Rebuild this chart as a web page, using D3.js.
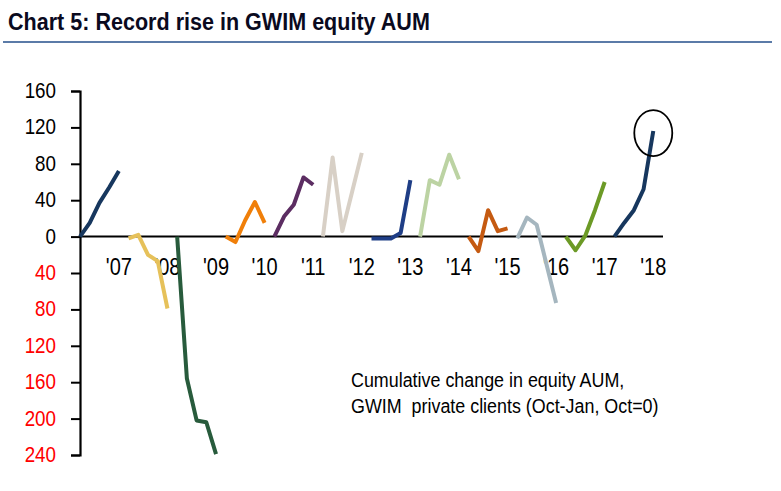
<!DOCTYPE html>
<html>
<head>
<meta charset="utf-8">
<script src="https://cdn.jsdelivr.net/npm/d3@7"></script>
<style>
  body { margin: 0; background: #fff; }
  svg text { font-family: "Liberation Sans", Arial, sans-serif; }
</style>
</head>
<body>
<svg id="chart" width="781" height="491"></svg>
<script>
// one segment per season, Oct..Jan, Oct = 0
const years = ["'07", "'08", "'09", "'10", "'11", "'12", "'13", "'14", "'15", "'16", "'17", "'18"];
const seasonValues = [
    [0, 15, 37, 54, 72],
    [-2, 2, -20, -27, -79],
    [0, -156, -202, -204, -239],
    [0, -6, 18, 38, 15],
    [0, 22, 35, 65, 57],
    [0, 87, 6, 49, 92],
    [-2, -2, -2, 4, 62],
    [0, 62, 57, 90, 63],
    [0, -16, 29, 6, 9],
    [-2, 21, 13, -30, -73],
    [0, -15, 1, 29, 60],
    [0, 15, 29, 52, 116]
];
const seasonColors = ["#17375e", "#e6c15a", "#285b3c", "#f07f09", "#5c2d62", "#d8d0c6",
                      "#1f3e86", "#bcd3a3", "#c55a11", "#a5b6bf", "#6c9a26", "#17375e"];
const yTicks = [160, 120, 80, 40, 0, -40, -80, -120, -160, -200, -240];

const svg = d3.select('#chart');

// title and rule
svg.append('text')
    .attr('transform', 'translate(8,30) scale(0.98,1.1)')
    .attr('font-size', 22).attr('font-weight', 'bold')
    .attr('fill', '#0a0a1e')
    .text('Chart 5: Record rise in GWIM equity AUM');
svg.append('line')
    .attr('x1', 3).attr('x2', 772).attr('y1', 42).attr('y2', 42)
    .attr('stroke', '#5b7ba8').attr('stroke-width', 2);

const x = d3.scaleLinear().domain([0, 60]).range([80, 663]);
const y = d3.scaleLinear().domain([-240, 160]).range([455, 91]);

// y axis, negative values shown without sign in red
const yAxis = svg.append('g')
    .attr('transform', `translate(${x(0)},0)`)
    .call(d3.axisLeft(y).tickValues(yTicks).tickSize(9).tickPadding(15)
        .tickFormat(d => Math.abs(d)));
yAxis.select('.domain').attr('stroke', '#000').attr('stroke-width', 2.2);
yAxis.selectAll('.tick line').attr('stroke', '#000').attr('stroke-width', 2);
yAxis.selectAll('.tick text')
    .attr('font-size', 18.8)
    .attr('font-family', '"Liberation Sans", Arial, sans-serif')
    .attr('fill', d => d < 0 ? '#ff0000' : '#000')
    .attr('transform', 'scale(1,1.15)')
    .attr('dy', '0.3em');

// zero line
svg.append('line')
    .attr('x1', x(0)).attr('x2', x(60))
    .attr('y1', y(0)).attr('y2', y(0))
    .attr('stroke', '#000').attr('stroke-width', 2);

// year labels under the last point of each season
svg.selectAll('.yr')
    .data(years)
    .enter().append('text')
        .attr('class', 'yr')
        .attr('text-anchor', 'middle')
        .attr('font-size', 20)
        .attr('transform', (d, i) => `translate(${x(i * 5 + 4)},${y(0) + 38}) scale(1,1.15)`)
        .text(d => d);

const line = d3.line()
    .x((d, j) => x(d.k * 5 + j))
    .y(d => y(d.v));

svg.selectAll('.season')
    .data(seasonValues)
    .enter().append('path')
        .attr('class', 'season')
        .attr('d', (vals, k) => line(vals.map(v => ({k: k, v: v}))))
        .attr('fill', 'none')
        .attr('stroke', (d, k) => seasonColors[k])
        .attr('stroke-width', 4)
        .attr('stroke-linejoin', 'round');

// circle around the latest reading
const last = seasonValues[11];
svg.append('ellipse')
    .attr('cx', x(59)).attr('cy', y(last[4]) + 2)
    .attr('rx', 19).attr('ry', 23)
    .attr('fill', 'none').attr('stroke', '#000').attr('stroke-width', 1.8);

// note
const note = svg.append('g').attr('transform', 'translate(351,0)');
['Cumulative change in equity AUM,', 'GWIM  private clients (Oct-Jan, Oct=0)'].forEach((t, i) => {
    note.append('text')
        .attr('font-size', 17.9)
        .attr('transform', `translate(0,${387 + i * 26}) scale(1,1.15)`)
        .attr('xml:space', 'preserve')
        .style('white-space', 'pre')
        .text(t);
});
</script>
</body>
</html>
